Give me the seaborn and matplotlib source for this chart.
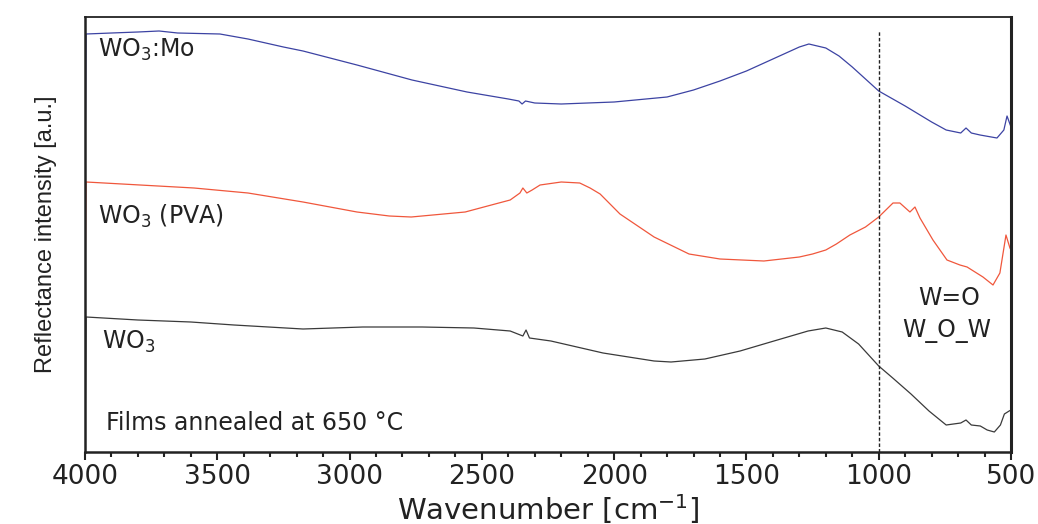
import numpy as np
import pandas as pd
import matplotlib
matplotlib.use("Agg")
import matplotlib.pyplot as plt
import seaborn as sns

# ---- data (intensity in arbitrary units) ----
mo_wn = [4000, 3996, 3900, 3800, 3720, 3650, 3490, 3384, 3250, 3176, 2972, 2764,
         2556, 2400, 2360, 2348, 2335, 2300, 2200, 2000, 1800, 1700, 1600, 1500,
         1400, 1300, 1264, 1200, 1150, 1100, 1000, 900, 800, 745, 690, 670, 650,
         617, 553, 527, 515, 500]
mo_int = [270, 418, 419, 420, 421, 419, 418, 413, 405, 401, 387, 372,
          360, 353, 351, 348, 351, 349, 348, 350, 355, 362, 371, 381,
          393, 405, 408, 404, 396, 385, 361, 346, 330, 322, 319, 324, 319,
          317, 314, 322, 336, 325]

pva_wn = [4000, 3996, 3792, 3588, 3384, 3176, 2972, 2850, 2767, 2563, 2450, 2393,
          2356, 2345, 2330, 2310, 2280, 2200, 2130, 2091, 2053, 1978, 1849, 1717,
          1600, 1434, 1300, 1250, 1200, 1160, 1109, 1050, 1000, 946, 920, 882, 863,
          844, 795, 742, 693, 666, 606, 568, 542, 519, 504, 500]
pva_int = [161, 270, 267, 264, 259, 250, 240, 236, 235, 240, 248, 252,
           259, 264, 259, 262, 267, 270, 269, 264, 258, 238, 215, 198,
           193, 191, 195, 198, 202, 208, 217, 225, 235, 249, 249, 240, 245,
           234, 212, 192, 187, 185, 175, 167, 179, 217, 204, 202]

wo3_wn = [4000, 3996, 3800, 3600, 3437, 3176, 2950, 2726, 2530, 2393, 2345, 2333,
          2320, 2239, 2042, 1849, 1785, 1657, 1524, 1396, 1267, 1200, 1138, 1076,
          1000, 947, 878, 810, 745, 690, 670, 650, 616, 590, 563, 540, 525, 507, 500]
wo3_int = [2, 135, 132, 130, 127, 123, 125, 125, 124, 121, 116, 122,
           114, 111, 99, 91, 90, 93, 101, 111, 121, 124, 120, 108,
           86, 74, 58, 41, 27, 29, 32, 27, 26, 22, 20, 27, 38, 41, 42]

series_names = ["WO3:Mo", "WO3 (PVA)", "WO3"]
series_colors = ["#3c43a3", "#f0573c", "#3a3a3a"]

frames = []
for name, wn, val in zip(series_names, [mo_wn, pva_wn, wo3_wn], [mo_int, pva_int, wo3_int]):
    frames.append(pd.DataFrame({"wn": wn, "val": val, "sample": name}))
df = pd.concat(frames, ignore_index=True)

# ---- style ----
sns.set_style("white")
plt.rcParams["font.family"] = ["DejaVu Sans"]
plt.rcParams["axes.edgecolor"] = "#222222"

fig = plt.figure(figsize=(10.38, 5.24), dpi=100)
ax = fig.add_axes([85 / 1038, 72 / 524, (1011 - 85) / 1038, (452 - 17) / 524])

sns.lineplot(data=df, x="wn", y="val", hue="sample", palette=dict(zip(series_names, series_colors)),
             hue_order=series_names, sort=False, estimator=None, linewidth=0.9,
             legend=False, ax=ax)

ax.vlines(1000, 0, 422, colors="#222222", linestyles=(0, (2.5, 1.5)), linewidth=1.0)

ax.set_xlim(4000, 500)
ax.set_ylim(0, 435)

ax.set_xticks([4000, 3500, 3000, 2500, 2000, 1500, 1000, 500])
ax.set_xticks(np.arange(500, 4001, 100), minor=True)
ax.set_yticks([])
ax.tick_params(axis="x", which="major", direction="out", length=6, width=1.5,
               labelsize=19, pad=3, colors="#222222", labelcolor="#222222")
ax.tick_params(axis="x", which="minor", direction="out", length=3.5, width=1.5, colors="#222222")
ax.tick_params(axis="x", which="both", bottom=True, top=False)

for side, lw in [("left", 1.8), ("bottom", 1.8), ("right", 2.2), ("top", 1.3)]:
    ax.spines[side].set_linewidth(lw)
    ax.spines[side].set_color("#222222")
    ax.spines[side].set_visible(True)

ax.set_xlabel("Wavenumber [cm$^{-1}$]", fontsize=21, labelpad=1, color="#222222")
ax.set_ylabel("Reflectance intensity [a.u.]", fontsize=17, labelpad=20, color="#222222",
              family=["Liberation Sans Narrow", "Liberation Sans", "DejaVu Sans"])

txt = dict(fontsize=17, color="#222222")
ax.text(3951, 395, "WO$_3$:Mo", ha="left", va="baseline", **txt)
ax.text(3951, 228, "WO$_3$ (PVA)", ha="left", va="baseline", **txt)
ax.text(3936, 103, "WO$_3$", ha="left", va="baseline", **txt)
ax.text(3921, 22, "Films annealed at 650 °C", ha="left", va="baseline", **txt)
ax.text(734, 147, "W=O", ha="center", va="baseline", **txt)
ax.text(742, 115, "W_O_W", ha="center", va="baseline", **txt)

fig.savefig("out.png", dpi=100)
